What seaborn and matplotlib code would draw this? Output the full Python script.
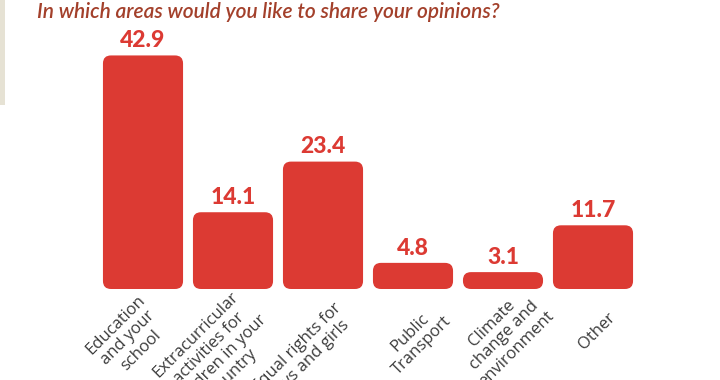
import matplotlib
matplotlib.use("Agg")
import matplotlib.pyplot as plt
import seaborn as sns
import pandas as pd
from matplotlib.patches import FancyBboxPatch, Rectangle

categories = [
    "Education\nand your\nschool",
    "Extracurricular\nactivities for\nchildren in your\ncountry",
    "Equal rights for\nboys and girls",
    "Public\nTransport",
    "Climate\nchange and\nenvironment",
    "Other",
]
values = [42.9, 14.1, 23.4, 4.8, 3.1, 11.7]
value_labels = ["42.9", "14.1", "23.4", "4.8", "3.1", "11.7"]
title = "In which areas would you like to share your opinions?"

# layout: centre of each rotated label block relative to bar centre / baseline (pixels)
label_dx_px = [-15, -18, -20, 3, 1, 4]
label_dy_px = [-49, -65, -65, -50, -47, -42]

BAR = "#dc3a33"
TITLE_C = "#a3402b"
TEXT_C = "#3c3c3c"

sns.set_theme(style="white")
plt.rcParams["font.family"] = ["Lato", "DejaVu Sans"]

df = pd.DataFrame({"cat": categories, "val": values})

fig = plt.figure(figsize=(7.2, 3.8), dpi=100)
ax = fig.add_axes([98 / 720, (380 - 289) / 380, 540 / 720, 245 / 380])
sns.barplot(data=df, x="cat", y="val", color=BAR, width=0.89, saturation=1, ax=ax)
ax.set_xlim(-0.5, 5.5)
ax.set_ylim(0, 45)
ax.axis("off")

# pixels per data unit
fig.canvas.draw()
p0 = ax.transData.transform((0, 0))
p1 = ax.transData.transform((1, 1))
px_x = p1[0] - p0[0]
px_y = p1[1] - p0[1]
r_px = 8.0
rx = r_px / px_x
aspect = px_x / px_y

bars = list(ax.patches)
for b in bars:
    x, y = b.get_x(), b.get_y()
    w, h = b.get_width(), b.get_height()
    b.remove()
    fb = FancyBboxPatch((x, y), w, h,
                        boxstyle=f"round,pad=0,rounding_size={rx}",
                        mutation_aspect=aspect,
                        facecolor=BAR, edgecolor="none", zorder=2)
    ax.add_patch(fb)

for i, (v, lab) in enumerate(zip(values, value_labels)):
    ax.annotate(lab, (i, v), xytext=(0, 3), textcoords="offset points",
                ha="center", va="bottom", fontsize=16.5, fontweight="black",
                color=BAR)

for i, cat in enumerate(categories):
    ax.annotate(cat, (i, 0),
                xytext=(label_dx_px[i] * 0.72, label_dy_px[i] * 0.72),
                textcoords="offset points",
                ha="center", va="center", rotation=45, rotation_mode="anchor",
                multialignment="center", fontsize=12, color=TEXT_C,
                family=["Open Sans", "DejaVu Sans"],
                linespacing=1.15, annotation_clip=False)

fig.text(37 / 720, 1 - 12 / 380, title, ha="left", va="center",
         fontsize=15, style="italic", fontweight="semibold", color=TITLE_C)

# beige page strip at the left edge
fig.patches.append(Rectangle((0, 1 - 105 / 380), 5 / 720, 105 / 380,
                             transform=fig.transFigure, facecolor="#e6e2d4",
                             edgecolor="none"))

fig.savefig("out.png", dpi=100)
